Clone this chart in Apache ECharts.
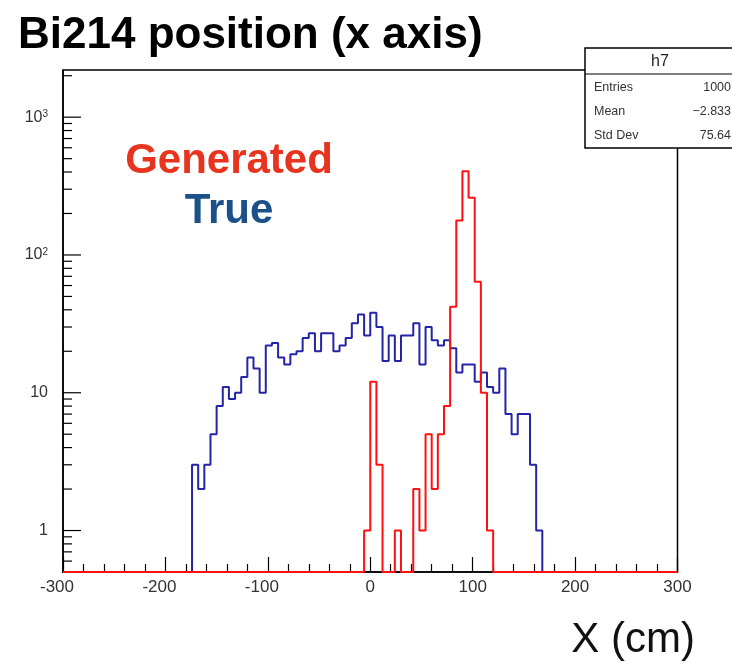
<!DOCTYPE html>
<html>
<head>
<meta charset="utf-8">
<script src="https://cdn.jsdelivr.net/npm/echarts@6/dist/echarts.min.js"></script>
<style>
  html, body { margin: 0; padding: 0; background: #fff; }
  #chart { width: 732px; height: 664px; }
</style>
</head>
<body>
<div id="chart"></div>
<script>
// Binning: 100 bins of 6 cm covering -300 .. 300 cm
const binLow = -300;
const binWidth = 6;
const nBins = 100;

// "True" positions (blue), first filled bin starts at -174 cm
const trueStart = -174;
const trueCounts = [3, 2, 3, 5, 8, 11, 9, 10, 13, 18, 15, 10, 22, 23, 18, 16, 19, 20, 25, 27,
  20, 27, 27, 20, 22, 25, 32, 37, 26, 38, 30, 17, 26, 17, 26, 26, 32, 16, 30, 24,
  22, 24, 21, 14, 16, 16, 12, 14, 11, 10, 15, 7, 5, 7, 7, 3, 1];

// "Generated" positions (red), first filled bin starts at -6 cm
const genStart = -6;
const genCounts = [1, 12, 3, 0, 0, 1, 0, 0, 2, 1, 5, 2, 5, 8, 42, 178, 405, 260, 64, 10, 1];

// Axis ranges and tick labels
const xMin = -300, xMax = 300, xStep = 100;
const yMin = 0.5, yMax = 2200;
const yMajorTicks = [1, 10, 100, 1000];
const yMajorLabels = ['1', '10', '10{s|2}', '10{s|3}'];
const yMinorTicks = [0.6, 0.7, 0.8, 0.9, 2, 3, 4, 5, 6, 7, 8, 9, 20, 30, 40, 50, 60, 70, 80, 90,
  200, 300, 400, 500, 600, 700, 800, 900, 2000];

// Statistics box text
const statsTitle = 'h7';
const statsNames = ['Entries', 'Mean', 'Std Dev'];
const statsValues = ['1000', '\u22122.833', '75.64'];

const FONT = '"Liberation Sans", Arial, Helvetica, sans-serif';

// Expand a partial count list to the full bin range
function fullBins(start, counts) {
  const arr = new Array(nBins).fill(0);
  const first = Math.round((start - binLow) / binWidth);
  counts.forEach((c, i) => { arr[first + i] = c; });
  return arr;
}

// Step outline of a histogram; empty bins sit on the bottom of the frame (log scale)
function outline(start, counts) {
  const bins = fullBins(start, counts);
  const pts = [];
  bins.forEach((c, i) => {
    const x0 = binLow + i * binWidth;
    const y = c > 0 ? c : yMin;
    pts.push([x0, y], [x0 + binWidth, y]);
  });
  return pts;
}

function isDecade(v) {
  const l = Math.log10(v);
  return Math.abs(l - Math.round(l)) < 1e-6;
}

const chart = echarts.init(document.getElementById('chart'), null, { renderer: 'canvas' });

const option = {
  animation: false,
  backgroundColor: '#fff',
  grid: {
    left: 63, right: 54.5, top: 70, bottom: 92,
    show: true, borderColor: '#000', borderWidth: 1.5, backgroundColor: 'transparent'
  },
  xAxis: {
    type: 'value', min: xMin, max: xMax, interval: xStep,
    axisLine: { show: true, onZero: false, lineStyle: { color: '#000', width: 1.5 } },
    axisTick: { show: true, inside: true, length: 15, lineStyle: { color: '#000', width: 1.2 } },
    minorTick: { show: true, splitNumber: 5, length: 8, lineStyle: { color: '#000', width: 1.2 } },
    splitLine: { show: false },
    axisLabel: {
      color: '#333', fontFamily: FONT, fontSize: 17, margin: 7,
      // negative labels: the minus sign hangs to the left of the centred digits
      formatter: v => (v < 0 ? '{n|-' + Math.abs(v) + '}' : String(v)),
      rich: { n: { fontFamily: FONT, fontSize: 17, color: '#333', padding: [0, 12, 0, 0] } }
    }
  },
  yAxis: {
    type: 'log', logBase: 10, min: yMin, max: yMax,
    axisLine: { show: true, onZero: false, lineStyle: { color: '#000', width: 1.5 } },
    axisTick: { show: false },
    splitLine: { show: false },
    axisLabel: {
      color: '#333', fontFamily: FONT, fontSize: 16, margin: 15,
      showMinLabel: false, showMaxLabel: false,
      formatter: v => {
        if (!isDecade(v)) return '';
        const idx = yMajorTicks.findIndex(t => Math.abs(t - v) / t < 1e-6);
        return idx >= 0 ? yMajorLabels[idx] : '';
      },
      rich: {
        s: { fontSize: 10, fontFamily: FONT, color: '#333', verticalAlign: 'top', lineHeight: 16, padding: [0, 0, 8, 0] }
      }
    }
  },
  series: [
    {
      name: 'True', type: 'line', data: outline(trueStart, trueCounts),
      showSymbol: false, symbol: 'none', clip: true, z: 4,
      lineStyle: { color: '#2424a8', width: 2 }
    },
    {
      name: 'Generated', type: 'line', data: outline(genStart, genCounts),
      showSymbol: false, symbol: 'none', clip: true, z: 5,
      lineStyle: { color: '#ff1010', width: 2 }
    },
    {
      // y-axis tick marks drawn inside the frame: long at decades, short in between
      type: 'custom', silent: true, z: 6,
      data: yMajorTicks.map(v => [xMin, v, 18]).concat(yMinorTicks.map(v => [xMin, v, 9])),
      renderItem: (params, api) => {
        const p = api.coord([api.value(0), api.value(1)]);
        const len = api.value(2);
        return {
          type: 'line',
          shape: { x1: p[0], y1: p[1], x2: p[0] + len, y2: p[1] },
          style: { stroke: '#000', lineWidth: 1.2 }
        };
      }
    }
  ],
  graphic: [
    {
      type: 'text', x: 18, y: 14, z: 10,
      style: { text: 'Bi214 position (x axis)', font: 'bold 44px ' + FONT, fill: '#000', verticalAlign: 'top' }
    },
    {
      type: 'text', x: 229, y: 140, z: 10,
      style: { text: 'Generated', font: 'bold 42px ' + FONT, fill: '#e8331e', align: 'center', verticalAlign: 'top' }
    },
    {
      type: 'text', x: 229, y: 190, z: 10,
      style: { text: 'True', font: 'bold 42px ' + FONT, fill: '#1b5189', align: 'center', verticalAlign: 'top' }
    },
    {
      type: 'text', x: 695, y: 619, z: 10,
      style: { text: 'X (cm)', font: '42px ' + FONT, fill: '#111', align: 'right', verticalAlign: 'top' }
    },
    {
      type: 'group', z: 20,
      children: [
        { type: 'rect', shape: { x: 585, y: 48, width: 160, height: 100 },
          style: { fill: '#fff', stroke: '#000', lineWidth: 1.5 } },
        { type: 'line', shape: { x1: 585, y1: 74, x2: 732, y2: 74 },
          style: { stroke: '#000', lineWidth: 1.2 } },
        { type: 'text', x: 660, y: 62,
          style: { text: statsTitle, font: '16px ' + FONT, fill: '#222', align: 'center', verticalAlign: 'middle' } }
      ].concat(
        statsNames.map((n, i) => ({ type: 'text', x: 594, y: 88 + i * 24,
          style: { text: n, font: '12.5px ' + FONT, fill: '#333', align: 'left', verticalAlign: 'middle' } })),
        statsValues.map((v, i) => ({ type: 'text', x: 731, y: 88 + i * 24,
          style: { text: v, font: '12.5px ' + FONT, fill: '#333', align: 'right', verticalAlign: 'middle' } }))
      )
    }
  ]
};

chart.setOption(option);
</script>
</body>
</html>
